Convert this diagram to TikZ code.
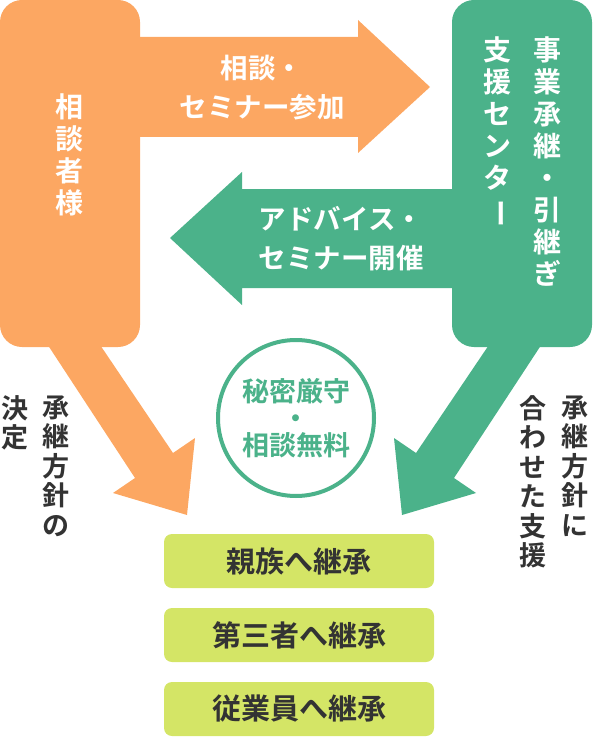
\documentclass[tikz,border=0pt]{standalone}
\usepackage{fontspec}
\newfontfamily\jp{Noto Sans CJK JP}[BoldFont=* Bold]
\definecolor{soudan}{HTML}{FCA762}
\definecolor{center}{HTML}{4BB28A}
\definecolor{keisho}{HTML}{D4E566}
\definecolor{sumi}{HTML}{333333}
\newcommand\vbar{\rotatebox[origin=c]{-90}{ー}}
\tikzset{
  arrowtext/.style={text=white, font=\jp\bfseries\fontsize{27.5}{39}\selectfont, align=center},
  vtext/.style={text=white, font=\jp\bfseries\fontsize{28}{32}\selectfont, align=center, anchor=north},
  sidetext/.style={text=sumi, font=\jp\bfseries\fontsize{27}{29.5}\selectfont, align=center, anchor=north},
  choice/.style={fill=keisho, rounded corners=8pt, minimum width=270pt, minimum height=54pt,
    text=sumi, font=\jp\bfseries\fontsize{29}{30}\selectfont},
}
\begin{document}
\begin{tikzpicture}[x=1pt, y=-1pt]
\useasboundingbox (0,0) rectangle (592,746);
% big arrows between the two boxes
\fill[soudan] (120,37) -- (358,37) -- (358,20) -- (430,87) -- (358,153) -- (358,137) -- (120,137) -- cycle;
\fill[center] (470,189) -- (242,189) -- (242,172) -- (170,238) -- (242,305) -- (242,288) -- (470,288) -- cycle;
% arrows down to the choices
\fill[soudan] (38,330) -- (90,330) -- (173,453) -- (195,438) -- (187,515) -- (113,493) -- (135,478) -- cycle;
\fill[center] (551,330) -- (499,330) -- (416,453) -- (394,438) -- (402,515) -- (476,493) -- (454,478) -- cycle;
% the two boxes
\fill[soudan, rounded corners=22pt] (0,0) rectangle (140,347);
\fill[center, rounded corners=22pt] (452,0) rectangle (592,347);
\node[vtext] (client) at (69,90) {相\\談\\者\\様};
\node[vtext] (centerA) at (547,33) {事\\業\\承\\継\\・\\引\\継\\ぎ};
\node[vtext] (centerB) at (497,33) {支\\援\\セ\\ン\\タ\\\vbar};
\node[arrowtext] (sanka) at (262,88) {相談・\\セミナー参加};
\node[arrowtext] (kaisai) at (341,239) {アドバイス・\\セミナー開催};
% circle in the middle
\node[circle, draw=center, line width=4pt, fill=white, minimum size=156pt,
  text=center, font=\jp\bfseries\fontsize{27}{27}\selectfont, align=center] (himitsu) at (296,418)
  {秘密厳守\\・\\相談無料};
% side notes
\node[sidetext] (hoshinL) at (56,392) {承\\継\\方\\針\\の};
\node[sidetext] (ketteiL) at (15,392) {決\\定};
\node[sidetext] (hoshinR) at (575,392) {承\\継\\方\\針\\に};
\node[sidetext] (shienR) at (533,392) {合\\わ\\せ\\た\\支\\援};
% the three ways
\node[choice] (shinzoku) at (299,561) {親族へ継承};
\node[choice] (daisansha) at (299,635) {第三者へ継承};
\node[choice] (jugyoin) at (299,709) {従業員へ継承};
\end{tikzpicture}
\end{document}
